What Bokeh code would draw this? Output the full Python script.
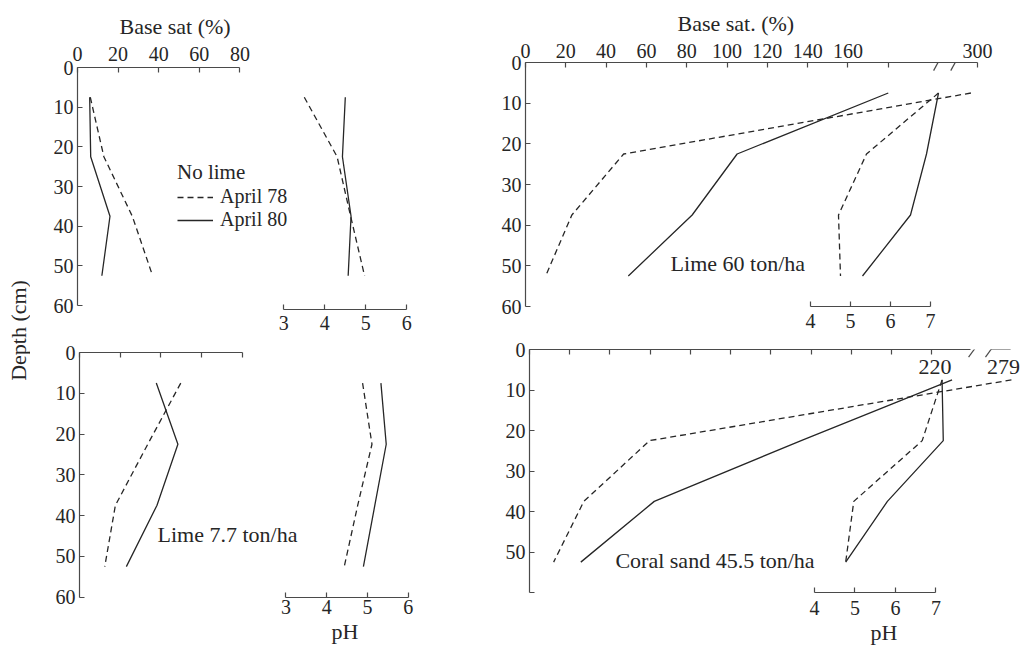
import math
from bokeh.plotting import figure
from bokeh.layouts import row, column
from bokeh.models import Range1d, LinearAxis, FixedTicker, Label, Legend, LegendItem, Arrow, Title
from bokeh.embed import file_html
from bokeh.resources import INLINE

# ---------------- data ----------------
depth_cm = [7.5, 22.5, 37.5, 52.5]

# No lime
nolime_bs_apr78 = [6.3, 13, 27, 37]
nolime_bs_apr80 = [6, 6.5, 16, 12]
nolime_ph_apr78 = [3.5, 4.3, 4.63, 4.97]
nolime_ph_apr80 = [4.5, 4.43, 4.64, 4.57]

# Lime 7.7 ton/ha
lime77_bs_apr78 = [49.7, 33.5, 17.6, 12.4]
lime77_bs_apr80 = [37.7, 48.3, 38, 23]
lime77_ph_apr78 = [4.88, 5.11, 4.76, 4.43]
lime77_ph_apr80 = [5.33, 5.46, 5.18, 4.9]

# Lime 60 ton/ha
lime60_bs_apr78 = [300, 48.7, 23, 10]
lime60_bs_apr80 = [180, 105, 82.7, 51]
lime60_ph_apr78 = [7.2, 5.4, 4.7, 4.75]
lime60_ph_apr80 = [7.2, 6.9, 6.5, 5.3]

# Coral sand 45.5 ton/ha
coral_bs_apr78 = [279, 59.7, 27, 12]
coral_bs_apr80 = [220, 135, 62, 25.5]
coral_ph_apr78 = [7.15, 6.66, 4.97, 4.77]
coral_ph_apr80 = [7.15, 7.18, 5.8, 4.77]

depth_ticks = [0, 10, 20, 30, 40, 50, 60]
bs_ticks_small = [0, 20, 40, 60, 80]
bs_ticks_wide_top = [0, 20, 40, 60, 80, 100, 120, 140, 160, 180]
bs_ticks_wide_bottom = [0, 20, 40, 60, 80, 100, 120, 140, 160, 180, 200]
ph_ticks_low = [3, 4, 5, 6]
ph_ticks_high = [4, 5, 6, 7]

# ---------------- style ----------------
FONT = "Liberation Serif"
TXT = "#262626"
AX = "#4a4a4a"
INK = "#262626"
DASH = "6 4"
TICK_FS = "20px"
TEXT_FS = "22px"


def broken(values, k, brk=200):
    """Map values beyond the axis break onto a compressed scale."""
    return [v if v <= brk else brk + (v - brk) * k for v in values]


def make_panel(w, h, bl, br, bt, bb, bs_end, ph_start, ph_end, depth_end):
    p = figure(width=w, height=h,
               x_range=Range1d(0, bs_end), y_range=Range1d(depth_end, 0),
               x_axis_location=None, y_axis_location=None,
               output_backend="svg", toolbar_location=None,
               min_border_left=bl, min_border_right=br,
               min_border_top=bt, min_border_bottom=bb,
               outline_line_color=None, border_fill_color="white",
               background_fill_color="white")
    p.frame_align = False
    p.extra_x_ranges = {"ph": Range1d(ph_start, ph_end)}
    p.grid.visible = False
    return p


def style_axis(ax, show_labels=True, standoff=3):
    ax.axis_line_color = AX
    ax.axis_line_width = 1.2
    ax.major_tick_line_color = AX
    ax.major_tick_line_width = 1.2
    ax.major_tick_in = 5
    ax.major_tick_out = 0
    ax.minor_tick_line_color = None
    ax.major_label_text_font = FONT
    ax.major_label_text_font_size = TICK_FS if show_labels else "1px"
    ax.major_label_text_color = TXT
    ax.major_label_standoff = standoff if show_labels else 0


def add_axes(p, bs_ticks, bs_bounds, ph_ticks, depth_labels_upto, top_labels, top_overrides=None,
             top_standoff=3, ph_standoff=3):
    yax = LinearAxis(ticker=FixedTicker(ticks=depth_ticks), bounds=(0, 60))
    style_axis(yax, standoff=4)
    yax.major_label_overrides = {t: ("" if t > depth_labels_upto else str(t)) for t in depth_ticks}
    p.add_layout(yax, "left")

    tax = LinearAxis(ticker=FixedTicker(ticks=bs_ticks), bounds=bs_bounds)
    style_axis(tax, show_labels=top_labels, standoff=top_standoff)
    if not top_labels:
        tax.major_label_overrides = {t: "" for t in bs_ticks}
    elif top_overrides:
        tax.major_label_overrides = top_overrides
    p.add_layout(tax, "above")

    pax = LinearAxis(ticker=FixedTicker(ticks=ph_ticks), bounds=(ph_ticks[0], ph_ticks[-1]),
                     x_range_name="ph")
    style_axis(pax, standoff=ph_standoff)
    p.add_layout(pax, "below")


def add_profiles(p, bs78, bs80, ph78, ph80):
    r78 = p.line(bs78, depth_cm, line_color=INK, line_width=1.3, line_dash=DASH)
    r80 = p.line(bs80, depth_cm, line_color=INK, line_width=1.3)
    p.line(ph78, depth_cm, line_color=INK, line_width=1.3, line_dash=DASH, x_range_name="ph")
    p.line(ph80, depth_cm, line_color=INK, line_width=1.3, x_range_name="ph")
    return r78, r80


def text(p, x, y, s, align="left", xo=0, yo=0, size=TEXT_FS):
    p.add_layout(Label(x=x, y=y, text=s, text_font=FONT, text_font_size=size, text_color=TXT,
                       text_align=align, text_baseline="middle", x_offset=xo, y_offset=yo))


def title(p, s, side, offset, standoff=0):
    p.add_layout(Title(text=s, align="left", offset=offset, standoff=standoff,
                       text_font=FONT, text_font_size=TEXT_FS, text_font_style="normal",
                       text_color=TXT), side)


def seg(p, x0, y0, x1, y1):
    p.add_layout(Arrow(start=None, end=None, x_start=x0, y_start=y0, x_end=x1, y_end=y1,
                       line_color=AX, line_width=1.2))


# ---------------- depth title column ----------------
dfig = figure(width=30, height=647, x_range=Range1d(0, 1), y_range=Range1d(0, 1),
              x_axis_location=None, y_axis_location=None, output_backend="svg",
              toolbar_location=None, min_border=0, outline_line_color=None)
dfig.frame_align = False
dfig.grid.visible = False
dfig.add_layout(Label(x=0.6, y=0.49, text="Depth (cm)", angle=math.pi / 2, text_font=FONT,
                      text_font_size=TEXT_FS, text_color=TXT, text_align="center",
                      text_baseline="middle"))

# ---------------- top-left: no lime ----------------
tl = make_panel(420, 338, 47, 10, 67, 29, 178.8, -2.032, 6.822, 61.0)
add_axes(tl, bs_ticks_small, (0, 80), ph_ticks_low, 60, True, top_standoff=7, ph_standoff=6)
title(tl, "Base sat (%)", "above", 42, standoff=9)
r78, r80 = add_profiles(tl, nolime_bs_apr78, nolime_bs_apr80, nolime_ph_apr78, nolime_ph_apr80)
leg = Legend(items=[LegendItem(label="April 78", renderers=[r78]),
                    LegendItem(label="April 80", renderers=[r80])],
             title="No lime", location=(100, 78), orientation="vertical",
             border_line_color=None, background_fill_alpha=0, padding=0, margin=0,
             spacing=0, glyph_width=36, glyph_height=20, label_standoff=7,
             label_text_font=FONT, label_text_font_size="20px", label_text_color=TXT,
             title_text_font=FONT, title_text_font_size="21px", title_text_color=TXT,
             title_text_font_style="normal", title_standoff=0)
tl.add_layout(leg)

# ---------------- top-right: lime 60 ton/ha ----------------
K_TR = 0.21
TR_AXIS_END = 224.3
tr = make_panel(576, 338, 75, 4, 62, 32, 246.6, -3.125, 9.3, 60.0)
add_axes(tr, bs_ticks_wide_top + [TR_AXIS_END], (0, TR_AXIS_END), ph_ticks_high, 60, True,
         top_overrides={180: "", TR_AXIS_END: "300"}, top_standoff=5, ph_standoff=7)
title(tr, "Base sat. (%)", "above", 152, standoff=9)
add_profiles(tr, broken(lime60_bs_apr78, K_TR), broken(lime60_bs_apr80, K_TR),
             lime60_ph_apr78, lime60_ph_apr80)
text(tr, 72, 49.4, "Lime 60 ton/ha")
seg(tr, 202.5, 2.0, 207.4, -2.5)
seg(tr, 211.0, 2.0, 216.0, -2.5)

# ---------------- bottom-left: lime 7.7 ton/ha ----------------
bl = make_panel(420, 309, 49, 10, 14, 50, 177.2, -2.067, 6.792, 60.08)
add_axes(bl, bs_ticks_small, (0, 80), ph_ticks_low, 60, False, ph_standoff=2)
title(bl, "pH", "below", 252)
add_profiles(bl, lime77_bs_apr78, lime77_bs_apr80, lime77_ph_apr78, lime77_ph_apr80)
text(bl, 38.3, 44.6, "Lime 7.7 ton/ha")

# ---------------- bottom-right: coral sand ----------------
K_BR = 0.5
br = make_panel(576, 309, 79, 4, 11, 55, 245.0, -3.037, 9.136, 60.0)
add_axes(br, bs_ticks_wide_bottom, (0, 219.2), ph_ticks_high, 50, False, ph_standoff=8)
title(br, "pH", "below", 341)
add_profiles(br, broken(coral_bs_apr78, K_BR), broken(coral_bs_apr80, K_BR),
             coral_ph_apr78, coral_ph_apr80)
text(br, 42.7, 52.1, "Coral sand 45.5 ton/ha")
text(br, broken([220], K_BR)[0], depth_cm[0], "220", align="center", xo=-17, yo=13)
text(br, broken([279], K_BR)[0], depth_cm[0], "279", align="center", xo=-8, yo=13)
seg(br, 218.2, 1.9, 224.2, -2.2)
seg(br, 226.6, 1.9, 232.5, -2.2)
seg(br, 229.1, 0, 239.1, 0)

layout = row(dfig, column(row(tl, tr), row(bl, br)))

with open("out.html", "w") as f:
    f.write(file_html(layout, INLINE))
